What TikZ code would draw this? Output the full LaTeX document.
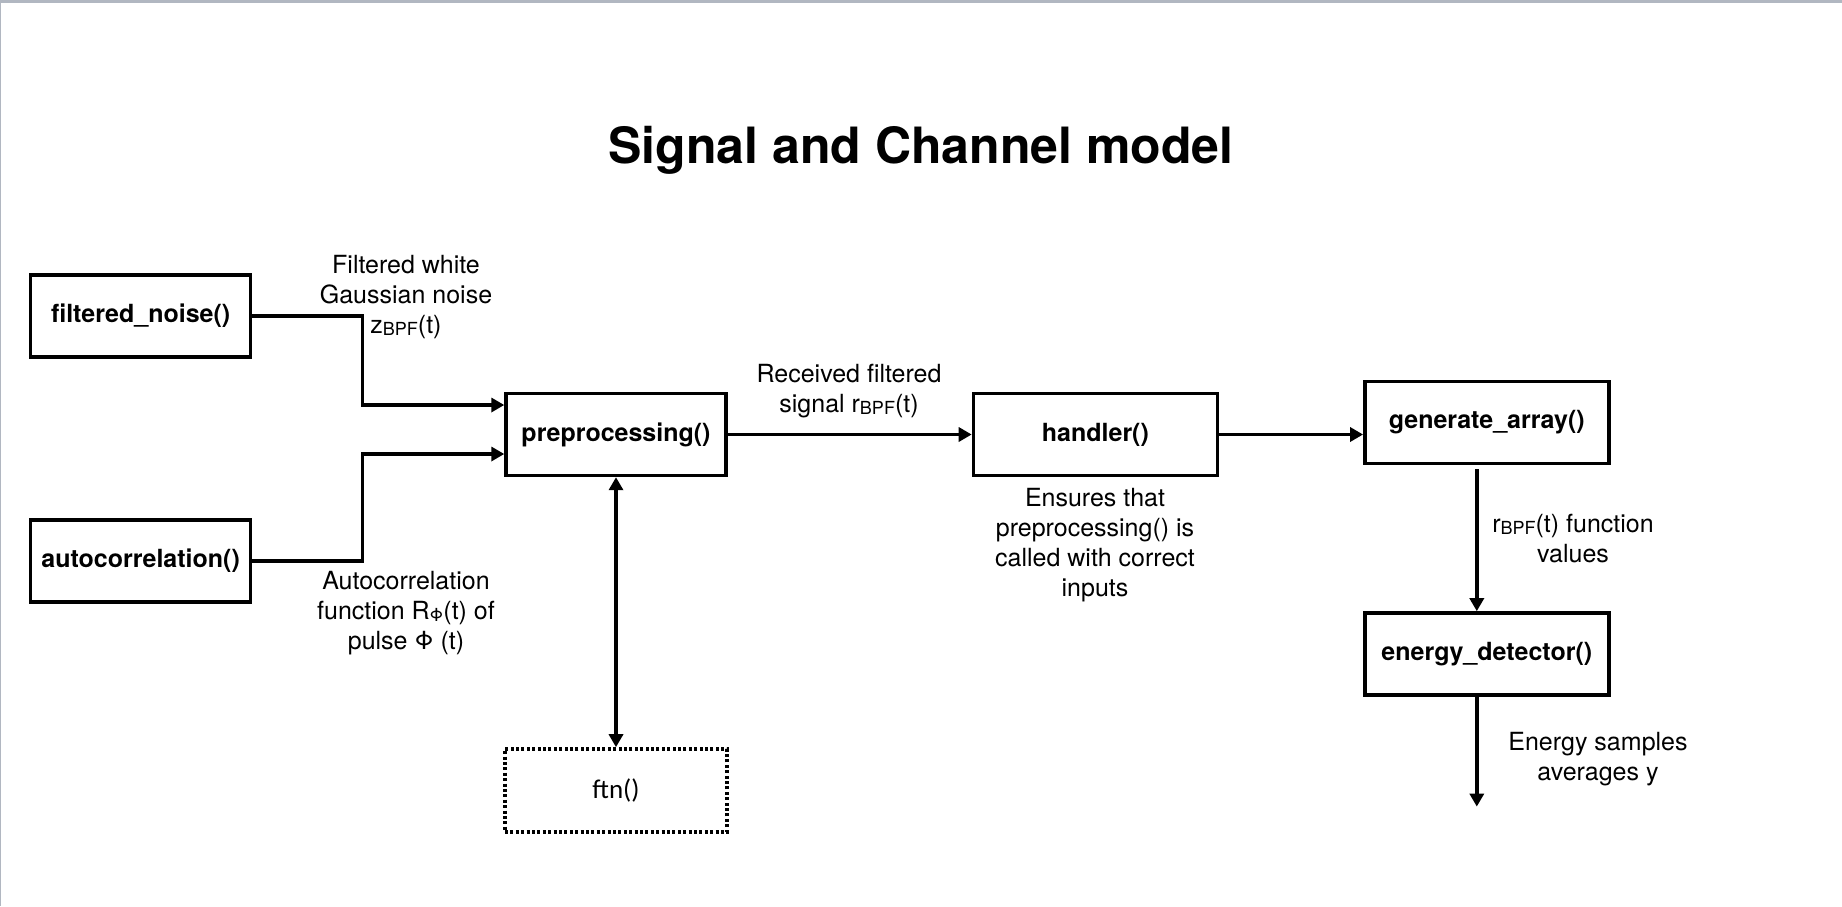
\documentclass[tikz,border=0pt]{standalone}
\usepackage{fontspec}
\setmainfont{TeX Gyre Heros}
\newfontfamily\calibrifont{Carlito}
\usetikzlibrary{positioning, arrows.meta, calc}
\definecolor{framegray}{HTML}{B1B7C1}
\newcommand{\lowidx}[1]{\raisebox{-1.2pt}{\fontsize{9}{9}\selectfont #1}}

\begin{document}
\begin{tikzpicture}[
        % Define styles for the blocks
        func/.style={draw, line width=1.7pt, minimum width=110pt, minimum height=41pt, font=\fontsize{12.5}{15}\selectfont\bfseries},
        wide_func/.style={func, minimum width=122pt},
        dotted_func/.style={func, minimum width=111pt, minimum height=41.5pt, dash pattern=on 1.5pt off 1.2pt, font=\calibrifont\fontsize{13.5}{16}\selectfont},
        note/.style={align=center, font=\fontsize{12.5}{15}\selectfont},
        arrow/.style={-{Triangle[length=6.5pt, width=7pt]}, line width=1.7pt},
        both_arrow/.style={{Triangle[length=6.5pt, width=7pt]}-{Triangle[length=6.5pt, width=7pt]}, line width=1.7pt}
    ]

    % Page size and window frame
    \useasboundingbox (0,0) rectangle (921pt,-453pt);
    \fill [framegray] (0,0) rectangle (921pt,-1.5pt);
    \fill [framegray] (0,0) rectangle (0.7pt,-453pt);

    % Title
    \node (title) [anchor=base, font=\fontsize{25}{30}\selectfont\bfseries] at (460.5pt,-81.5pt) {Signal and Channel model};

    % Central chain
    \node (prep) [func] at (308pt,-217.25pt) {preprocessing()};
    \node (handler) [wide_func, right=122pt of prep] {handler()};
    \node (gen) [wide_func, right=72pt of handler, yshift=6pt] {generate\_array()};
    \node (energy) [wide_func, below=73pt of gen] {energy\_detector()};
    \node (ftn) [dotted_func, below=135pt of prep] {ftn()};

    % Inputs on the left
    \node (filt) [func, left=126pt of prep, yshift=59.25pt] {filtered\_noise()};
    \node (autoc) [func, left=126pt of prep, yshift=-63.25pt] {autocorrelation()};

    % Connectors
    \draw [arrow] (filt.east) -- ++(55pt,0) |- ($(prep.west)+(0,14.75pt)$);
    \draw [arrow] (autoc.east) -- ++(55pt,0) |- ($(prep.west)+(0,-9.75pt)$);
    \draw [arrow] (prep.east) -- (handler.west);
    \draw [arrow] (handler.east) -- (handler.east -| gen.west);
    \draw [arrow] ([xshift=-5pt, yshift=-2pt]gen.south) -- ([xshift=-5pt]energy.north);
    \coordinate [below=55pt of energy.south, xshift=-5pt] (y_out);
    \draw [arrow] ([xshift=-5pt]energy.south) -- (y_out);
    \draw [both_arrow] (prep.south) -- (ftn.north);

    % Labels
    \node (noise_lbl) [note] at (203pt,-148.5pt) {Filtered white\\Gaussian noise\\z\lowidx{BPF}(t)};
    \node (autoc_lbl) [note] at (203pt,-306.5pt) {Autocorrelation\\function R\lowidx{Φ}(t) of\\pulse Φ (t)};
    \node (recv_lbl) [note] at (424.5pt,-195.5pt) {Received filtered\\signal r\lowidx{BPF}(t)};
    \node (handler_lbl) [note] at (547.5pt,-272.5pt) {Ensures that\\preprocessing() is\\called with correct\\inputs};
    \node (values_lbl) [note] at (786.5pt,-269.25pt) {r\lowidx{BPF}(t) function\\values};
    \node (y_lbl) [note] at (799pt,-379.75pt) {Energy samples\\averages y};

\end{tikzpicture}
\end{document}
